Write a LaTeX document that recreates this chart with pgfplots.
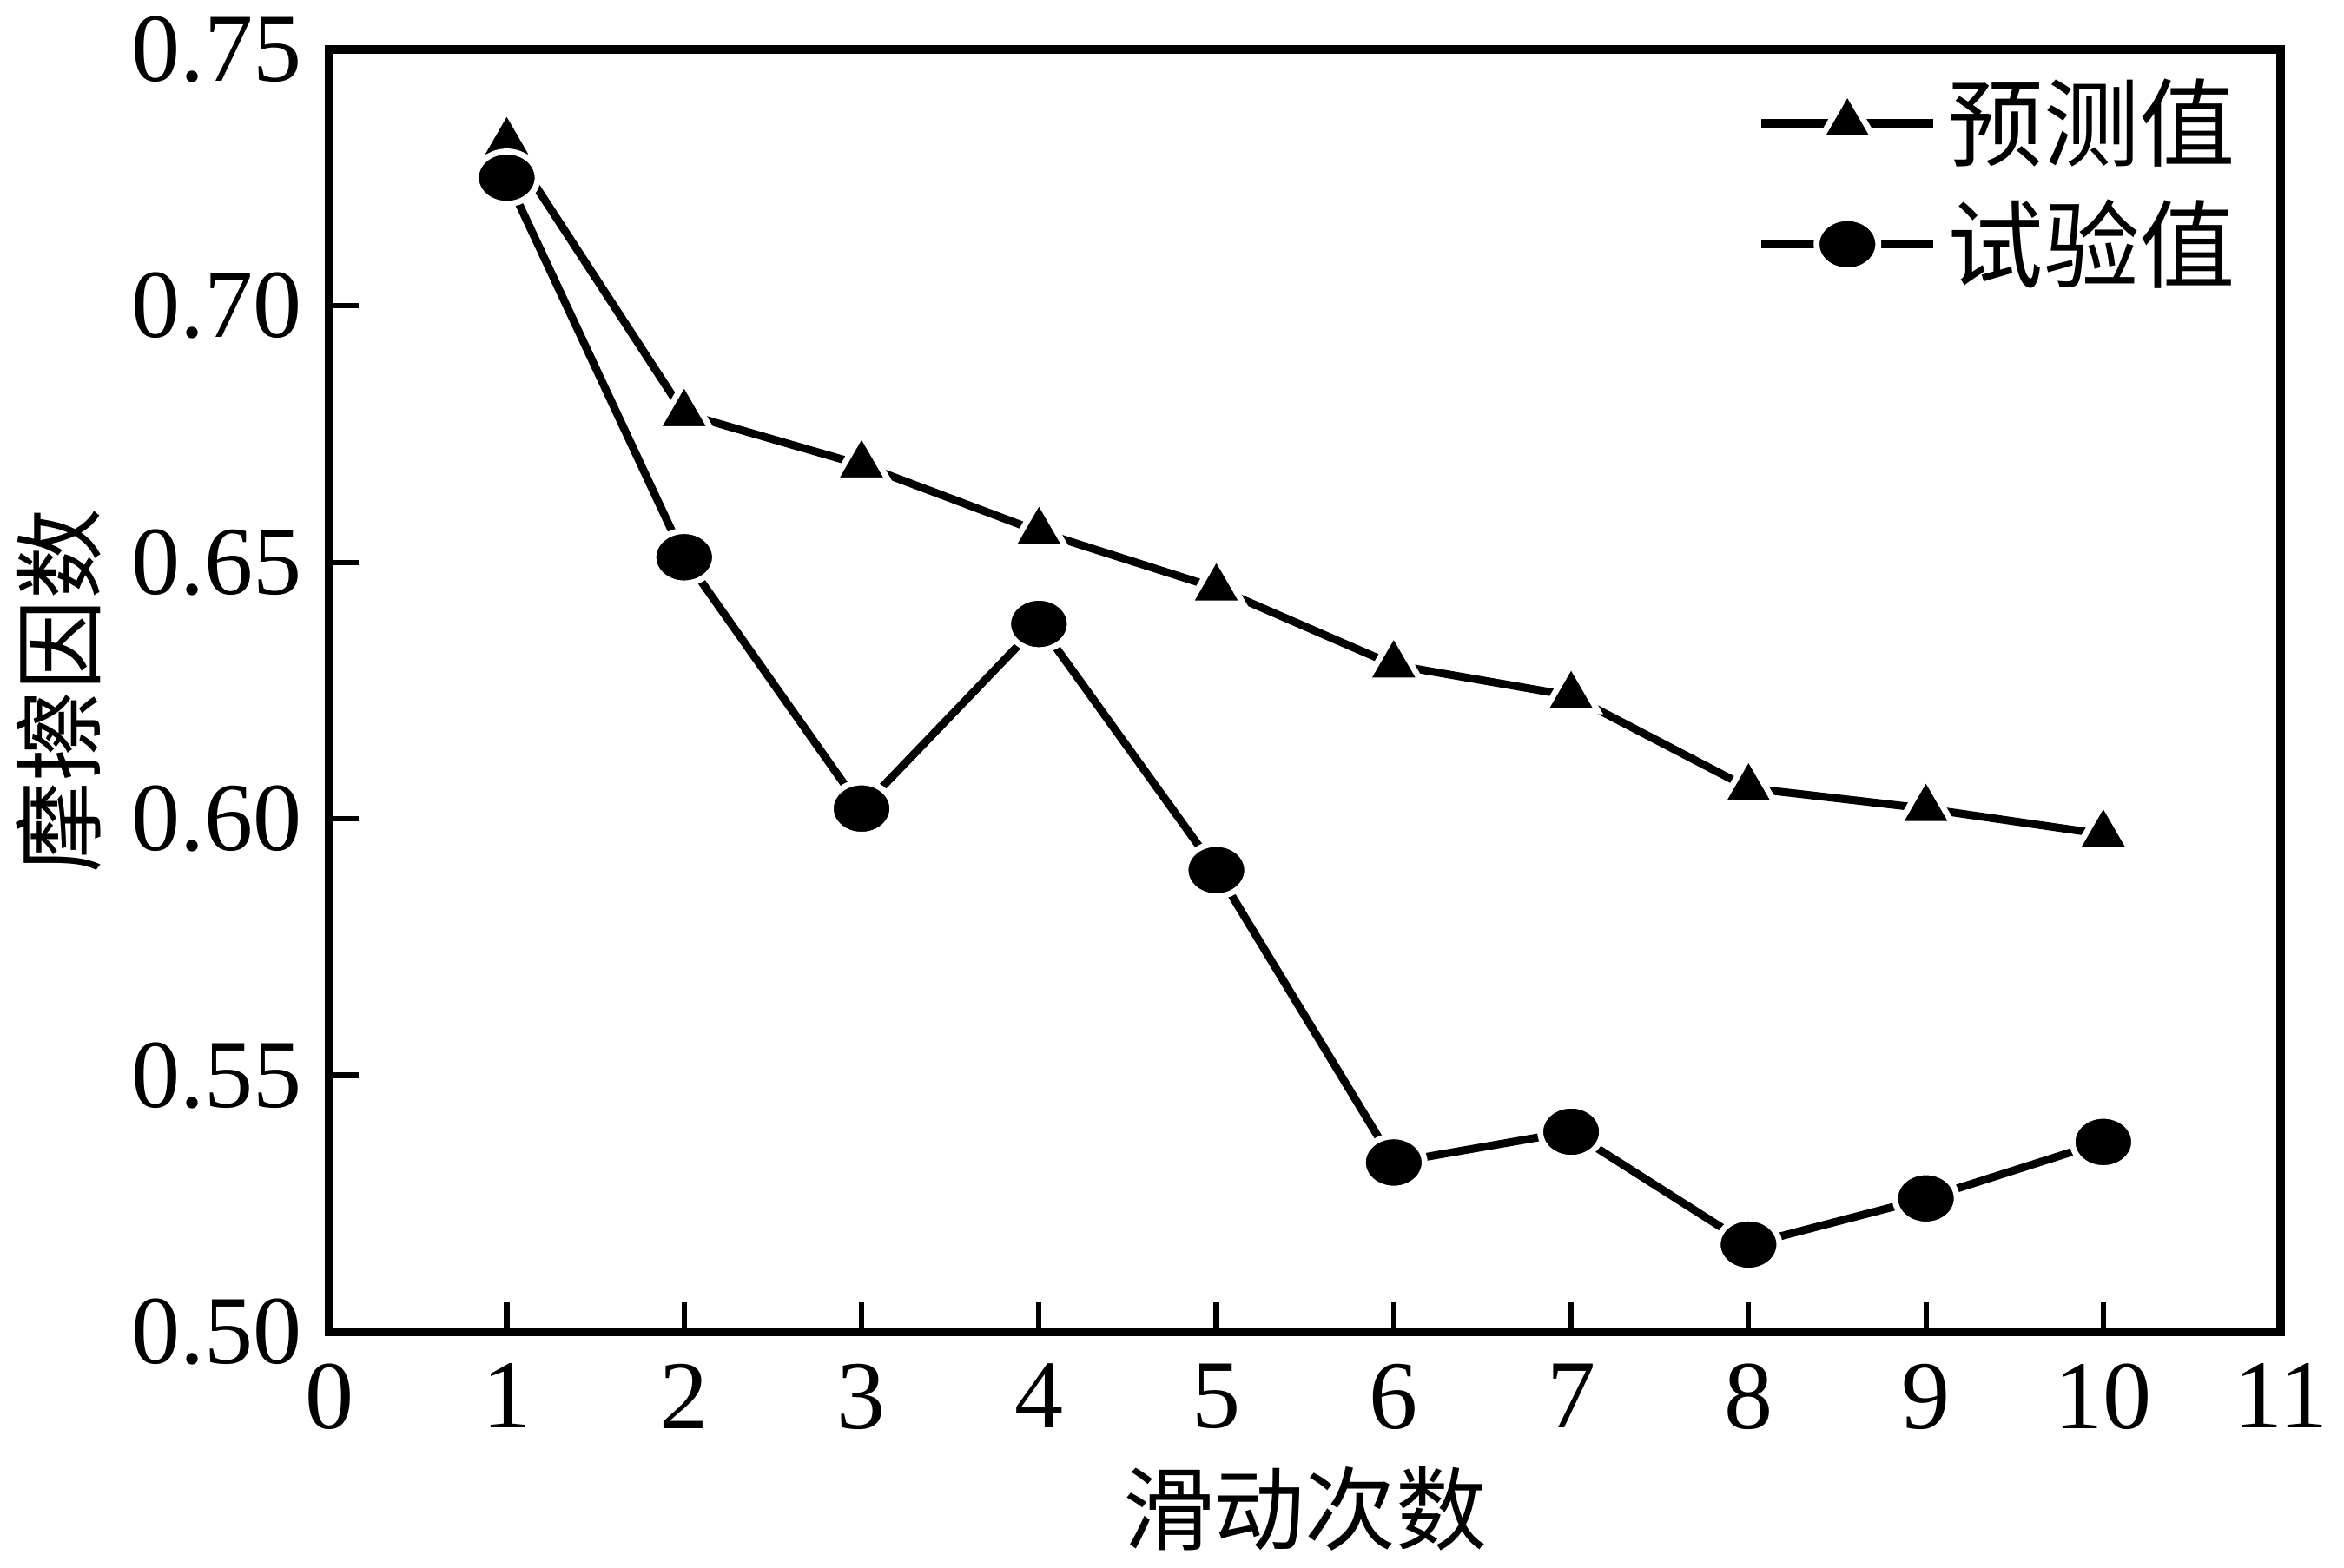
\documentclass[border=0pt]{standalone}
\usepackage{pgfplots}
\pgfplotsset{compat=1.18}
\usepackage{fontspec}
\setmainfont{Liberation Serif}
\newfontfamily\cjk{Noto Sans CJK SC}
\begin{document}
\begin{tikzpicture}
\begin{axis}[
  scale only axis,
  width=396.6pt, height=260.7pt,
  xmin=0, xmax=11, ymin=0.50, ymax=0.75,
  xtick={0,1,...,11},
  ytick={0.50,0.55,0.60,0.65,0.70,0.75},
  xtick pos=bottom, ytick pos=left,
  tick align=inside,
  major tick length=6pt,
  axis line style={line width=1.7pt},
  every tick/.style={line width=1.1pt, black},
  tick label style={font=\fontsize{19.8}{22}\selectfont},
  /pgf/number format/assume math mode=true,
  yticklabel style={xshift=-2pt, /pgf/number format/fixed, /pgf/number format/precision=2, /pgf/number format/fixed zerofill},
  xticklabel style={yshift=-3pt},
  xlabel={\cjk 滑动次数},
  ylabel={\cjk 摩擦因数},
  label style={font=\fontsize{18.5}{20}\selectfont},
  xlabel style={at={(axis description cs:0.5,0)}, anchor=center, yshift=-36pt},
  ylabel style={at={(axis description cs:0,0.5)}, anchor=center, yshift=55pt},
  legend style={draw=none, fill=none, at={(rel axis cs:0.99,0.993)}, anchor=north east,
    font=\fontsize{19.5}{21}\selectfont, row sep=2.7pt, cells={anchor=west}},
  legend image code/.code={\draw[mark repeat=2,mark phase=2,#1,line width=1.8pt] plot coordinates {(0pt,0pt)(17.5pt,0pt)(35pt,0pt)};},
]
\addplot[black, line width=1.6pt, mark=triangle*, mark size=6.3pt,
  mark options={solid, fill=black, draw=white, line width=1.2pt}]
  coordinates {(1,0.732)(2,0.679)(3,0.669)(4,0.656)(5,0.645)(6,0.630)(7,0.624)(8,0.606)(9,0.602)(10,0.597)};
\addlegendentry{\cjk 预测值}
\addplot[black, line width=1.6pt, mark=*, mark size=5.6pt,
  mark options={solid, fill=black, draw=white, line width=1.2pt, xscale=1.12, yscale=0.95}]
  coordinates {(1,0.725)(2,0.651)(3,0.602)(4,0.638)(5,0.590)(6,0.533)(7,0.539)(8,0.517)(9,0.526)(10,0.537)};
\addlegendentry{\cjk 试验值}
\end{axis}
\end{tikzpicture}
\end{document}
